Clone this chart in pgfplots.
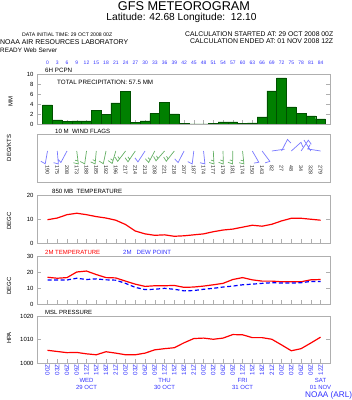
\documentclass[border=0pt]{standalone}
\usepackage{graphicx}
\usepackage{pgfplots}
\usepackage{pgfplotstable}
\pgfplotsset{compat=1.18}
\usepackage{fontspec}
\setmainfont{Liberation Sans}
\definecolor{frameg}{RGB}{175,175,175}
\definecolor{tblue}{RGB}{50,50,255}
\definecolor{bargreen}{RGB}{0,128,0}
\definecolor{baredge}{RGB}{0,80,0}
\definecolor{wblue}{RGB}{120,120,255}
\definecolor{wgreen}{RGB}{100,175,100}
\newcommand{\fs}[1]{\fontsize{#1}{7}\selectfont}
\pgfplotstableread{
h pcp t850 t2 td p
0 3.8 9.7 16.7 15.0 1005.4
3 0.8 10.4 16.1 15.0 1004.9
6 0.5 11.8 16.5 15.0 1004.4
9 0.6 12.4 20.0 16.1 1004.5
12 0.6 11.8 20.6 15.3 1003.9
15 2.7 11.0 18.4 15.7 1003.5
18 1.9 10.4 16.5 15.1 1004.8
21 4.2 9.5 16.3 14.9 1004.2
24 6.5 7.7 14.3 12.9 1003.5
27 0.3 5.0 12.4 10.4 1003.5
30 0.6 3.8 11.0 9.0 1004.2
33 2.1 3.2 11.4 9.2 1005.6
36 4.3 3.4 11.4 9.8 1006.1
39 2.0 2.8 11.6 9.2 1006.5
42 0.1 3.0 10.4 8.2 1008.6
45 0.0 3.4 10.6 8.4 1010.4
48 0.0 3.8 11.2 9.2 1010.6
51 0.1 4.7 12.0 9.8 1010.1
54 0.4 5.4 12.9 10.6 1010.6
57 0.4 5.8 15.3 11.2 1012.1
60 0.1 6.6 16.5 12.0 1012.0
63 0.2 7.4 15.1 12.4 1010.8
66 1.4 7.0 14.3 12.9 1010.8
69 6.6 7.8 14.3 13.3 1010.1
72 9.2 9.2 13.9 13.1 1007.7
75 3.4 10.3 13.9 13.1 1005.2
78 2.1 10.3 13.9 13.3 1006.1
81 1.6 9.9 15.1 14.1 1008.5
84 1.0 9.5 15.3 14.1 1011.0
}\met
\pgfplotsset{
  panel/.style={
    scale only axis, width=293bp, anchor=south west,
    xmin=-3.23, xmax=86.9,
    axis line style={frameg},
    every tick/.style={frameg},
    xtick={0,3,...,84}, xticklabels={},
    xtick pos=lower,
    major tick length=4bp,
    yticklabel style={font=\fs{6}, text=black},
    /pgf/number format/assume math mode=true,
    /pgf/number format/1000 sep={},
  }
}
\begin{document}
\begin{tikzpicture}[x=1bp,y=1bp]
\useasboundingbox (0,0) rectangle (352,400);
% header
\node[anchor=base, inner sep=0] at (184,389.5) {\resizebox{132bp}{!}{GFS METEOROGRAM}};
\node[anchor=base, inner sep=0] at (181.5,379) {\resizebox{150bp}{!}{Latitude: 42.68 Longitude:\ \ 12.10}};
\node[anchor=base west, inner sep=0] at (22,363.5) {\resizebox{90bp}{!}{DATA INITIAL TIME: 29 OCT 2008 00Z}};
\node[anchor=base west, inner sep=0] at (185,363.3) {\resizebox{148bp}{!}{CALCULATION STARTED AT: 29 OCT 2008 00Z}};
\node[anchor=base west, inner sep=0] at (190,356.3) {\resizebox{143bp}{!}{CALCULATION ENDED AT: 01 NOV 2008 12Z}};
\node[anchor=base west, inner sep=0] at (0,355) {\resizebox{128bp}{!}{NOAA AIR RESOURCES LABORATORY}};
\node[anchor=base west, inner sep=0] at (0,348) {\resizebox{57bp}{!}{READY Web Server}};
% panel titles
\node[anchor=west, inner sep=0] at (45,329.5) {\resizebox{27bp}{!}{6H PCPN}};
\node[anchor=west, inner sep=0] at (57,318) {\resizebox{96bp}{!}{TOTAL PRECIPITATION:\ 57.5 MM}};
\node[anchor=west, inner sep=0] at (55,269) {\resizebox{55bp}{!}{10 M\ \ WIND FLAGS}};
\node[anchor=west, inner sep=0] at (52,209) {\resizebox{70bp}{!}{850 MB\ \ TEMPERATURE}};
\node[anchor=west, inner sep=0, text=red] at (45,148) {\resizebox{55bp}{!}{2M TEMPERATURE}};
\node[anchor=west, inner sep=0, text=tblue] at (123,148) {\resizebox{48bp}{!}{2M\ \ \ DEW POINT}};
\node[anchor=west, inner sep=0] at (45,88) {\resizebox{47bp}{!}{MSL PRESSURE}};
% y labels
\node[rotate=90, font=\fs{6}] at (10.5,298) {MM};
\node[rotate=90, font=\fs{6}] at (9,252) {DEG/KTS};
\node[rotate=90, font=\fs{6}] at (9,179) {DEGC};
\node[rotate=90, font=\fs{6}] at (9,114) {DEGC};
\node[rotate=90, font=\fs{6}] at (9,62) {HPA};
\node[anchor=base west, inner sep=0, text=tblue] at (305,3) {\resizebox{47bp}{!}{NOAA (ARL)}};

% precipitation
\begin{axis}[panel, at={(37bp,276bp)}, height=50bp,
  ymin=0, ymax=10, ytick={0,2,4,6,8,10},
  xticklabel pos=upper,
  xticklabels={0,3,6,9,12,15,18,21,24,27,30,33,36,39,42,45,48,51,54,57,60,63,66,69,72,75,78,81,84},
  xticklabel style={font=\fs{5}, text=tblue, yshift=6bp}]
\addplot[ybar, bar width=3, bar shift=0pt, fill=bargreen, draw=baredge] table[x=h, y=pcp] {\met};
\end{axis}

% wind flags
\begin{axis}[panel, at={(37bp,218bp)}, height=48bp, ymin=0, ymax=48,
  ytick=\empty, xtick=\empty, unbounded coords=jump]
\addplot[wblue, line width=0.7bp] coordinates {
(-2.027,20.70) (-0.694,18.20) (0,31) (0,nan)
(1.862,19.34) (3.349,18.05) (3,31) (3,nan)
(3.092,23.24) (4.123,19.52) (6,31) (6,nan)
(26.895,24.10) (27.822,20.10) (30,31) (30,nan)
(39.135,23.08) (40.185,19.42) (42,31) (42,nan)
(43.142,20.37) (44.513,18.10) (45,31) (45,nan)
(46.926,19.28) (48.418,18.07) (48,31) (48,nan)
(63.486,18.87) (65.0,19.74) (63,31) (63,nan)
(66.935,19.16) (68.406,20.62) (66,31) (66,nan)
(72.96,32.81) (69,31) (69,nan)
(74.865,38.92) (73.815,42.58) (72,31) (72,nan)
(78.548,35.06) (77.972,39.70) (75,31) (75,nan)
(81.142,37.73) (80.237,41.78) (78,31) (78,nan)
(78.88,42.02) (81,31) (81,nan)
(80.79,37.40) (80.05,33.03) (84,31)
};
\addplot[wgreen, line width=0.7bp] coordinates {
(7.988,19.22) (9.487,18.10) (9,31) (9,nan) (8.477,21.75) (9.375,21.08) (9,nan)
(10.085,20.48) (11.443,18.13) (12,31) (12,nan)
(13.258,20.16) (14.651,18.05) (15,31) (15,nan) (13.895,22.31) (14.732,21.04) (15,nan)
(15.865,20.93) (17.168,18.28) (18,31) (18,nan)
(18.652,21.44) (19.898,18.50) (21,31) (21,nan) (19.406,23.15) (20.152,21.39) (21,nan)
(20.757,24.81) (21.594,20.62) (24,31) (24,nan) (21.646,25.53) (22.148,23.01) (24,nan)
(23.858,24.27) (24.763,20.22) (27,31) (27,nan) (24.735,25.14) (25.279,22.71) (27,nan)
(30.092,23.24) (31.123,19.52) (33,31) (33,nan) (30.938,24.40) (31.555,22.17) (33,nan)
(32.631,25.56) (33.375,21.19) (36,31) (36,nan) (33.532,26.08) (33.981,23.45) (36,nan)
(35.723,25.0) (36.538,20.76) (39,31) (39,nan) (36.615,25.66) (37.106,23.12) (39,nan)
(49.738,19.48) (51.209,18.02) (51,31) (51,nan) (50.277,21.89) (51.161,21.01) (51,nan)
(52.615,19.63) (54.07,18.0) (54,31) (54,nan) (53.182,21.98) (54.054,21.0) (54,nan)
(55.492,19.79) (56.93,18.0) (57,31) (57,nan) (56.083,22.08) (56.946,21.0) (57,nan)
(58.926,19.28) (60.418,18.07) (60,31) (60,nan) (59.425,21.78) (60.322,21.06)
};
\foreach \hh/\lab in {0/190/ 12,3/175/ 10,6/208/ 10,9/173/ 13,12/188/ 10,15/185/ 13,18/192/ 12,21/196/ 17,24/217/ 16,27/214/ 13,30/213/ 12,33/208/ 14,36/221/ 14,39/218/ 14,42/207/ 10,45/187/ 10,48/174/ 11,51/177/ 13,54/179/ 13,57/181/ 15,60/174/ 16,63/150/ 11,66/143/ 8,69/82/ 2,72/27/ 7,75/48/ 7,78/34/ 6,81/328/ 2,84/279/ 5}{
  \edef\temp{\noexpand\node[rotate=-90, anchor=west, inner sep=0.5bp, font=\noexpand\fs{5.4}, text=black!85] at (axis cs:\hh,17.5) {\lab};}
  \temp
}
\end{axis}

% 850 mb temperature
\begin{axis}[panel, at={(37bp,157bp)}, height=48bp, ymin=0, ymax=20, ytick={0,10,20}]
\addplot[red, line width=1.2bp] table[x=h, y=t850] {\met};
\end{axis}

% 2m temperature / dew point
\begin{axis}[panel, at={(37bp,96bp)}, height=48bp, ymin=0, ymax=30, ytick={0,10,20,30}]
\addplot[red, line width=1.2bp] table[x=h, y=t2] {\met};
\addplot[blue, line width=1.2bp, dash pattern=on 4bp off 2.5bp] table[x=h, y=td] {\met};
\end{axis}

% pressure
\begin{axis}[panel, at={(37bp,37bp)}, height=47bp, ymin=1000, ymax=1020, ytick={1000,1010,1020},
  clip=false,
  xticklabels={00Z,03Z,06Z,09Z,12Z,15Z,18Z,21Z,00Z,03Z,06Z,09Z,12Z,15Z,18Z,21Z,00Z,03Z,06Z,09Z,12Z,15Z,18Z,21Z,00Z,03Z,06Z,09Z,12Z},
  xticklabel style={rotate=90, anchor=east, font=\fs{6.3}, text=tblue, inner sep=1bp}]
\addplot[red, line width=1.2bp] table[x=h, y=p] {\met};
\node[align=center, font=\fs{6}, text=tblue, yshift=-20.5bp] at (axis cs:12,1000) {WED\\29 OCT};
\node[align=center, font=\fs{6}, text=tblue, yshift=-20.5bp] at (axis cs:36,1000) {THU\\30 OCT};
\node[align=center, font=\fs{6}, text=tblue, yshift=-20.5bp] at (axis cs:60,1000) {FRI\\31 OCT};
\node[align=center, font=\fs{6}, text=tblue, yshift=-20.5bp] at (axis cs:84,1000) {SAT\\01 NOV};
\end{axis}
\end{tikzpicture}
\end{document}
